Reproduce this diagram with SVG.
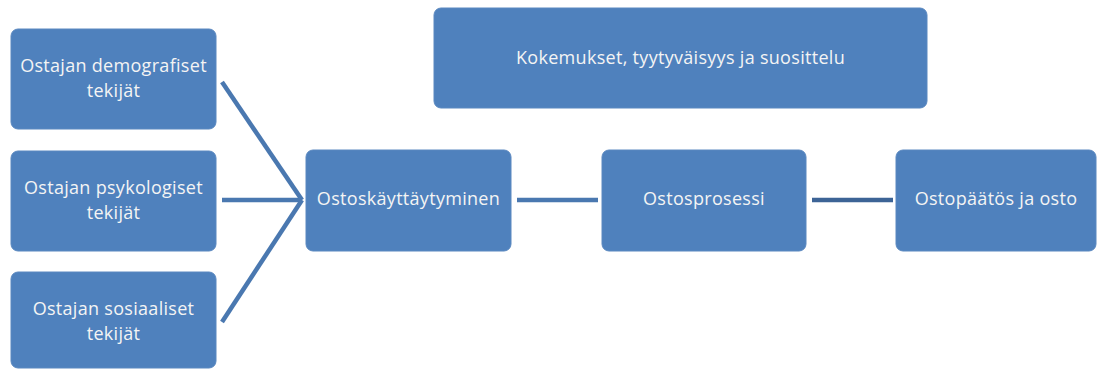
<svg xmlns="http://www.w3.org/2000/svg" width="1097" height="369" viewBox="0 0 1097 369">
<style>
.box{fill:#4f81bd;stroke:#5a88c0;stroke-width:1}
.t{font-family:"Open Sans","Liberation Sans",sans-serif;font-size:18px;letter-spacing:0.3px;fill:#f4f4f4;text-anchor:middle}
.c{stroke:#4a78b0;stroke-width:4.5;fill:none}
</style>
<rect width="1097" height="369" fill="#ffffff"/>
<g id="connectors">
<line class="c" x1="222" y1="82" x2="302" y2="200"/>
<line class="c" x1="222" y1="200" x2="302" y2="200"/>
<line class="c" x1="222" y1="322" x2="302" y2="200"/>
<line class="c" x1="517" y1="200" x2="598" y2="200"/>
<line class="c" x1="812" y1="200" x2="893" y2="200" style="stroke:#3d6496"/>
</g>
<g id="n1"><rect class="box" x="11" y="29" width="205" height="100" rx="7"/><text class="t" x="113.5" y="72">Ostajan demografiset</text><text class="t" x="113.5" y="97">tekijät</text></g>
<g id="n2"><rect class="box" x="11" y="151" width="205" height="100" rx="7"/><text class="t" x="113.5" y="194">Ostajan psykologiset</text><text class="t" x="113.5" y="219">tekijät</text></g>
<g id="n3"><rect class="box" x="11" y="272" width="205" height="96" rx="7"/><text class="t" x="113.5" y="315">Ostajan sosiaaliset</text><text class="t" x="113.5" y="340">tekijät</text></g>
<g id="n4"><rect class="box" x="306" y="150" width="205" height="101" rx="7"/><text class="t" x="408.5" y="205">Ostoskäyttäytyminen</text></g>
<g id="n5"><rect class="box" x="434" y="8" width="493" height="100" rx="7"/><text class="t" x="680.5" y="64">Kokemukset, tyytyväisyys ja suosittelu</text></g>
<g id="n6"><rect class="box" x="602" y="150" width="204" height="101" rx="7"/><text class="t" x="704" y="205">Ostosprosessi</text></g>
<g id="n7"><rect class="box" x="896" y="150" width="200" height="101" rx="7"/><text class="t" x="996" y="205">Ostopäätös ja osto</text></g>
</svg>
